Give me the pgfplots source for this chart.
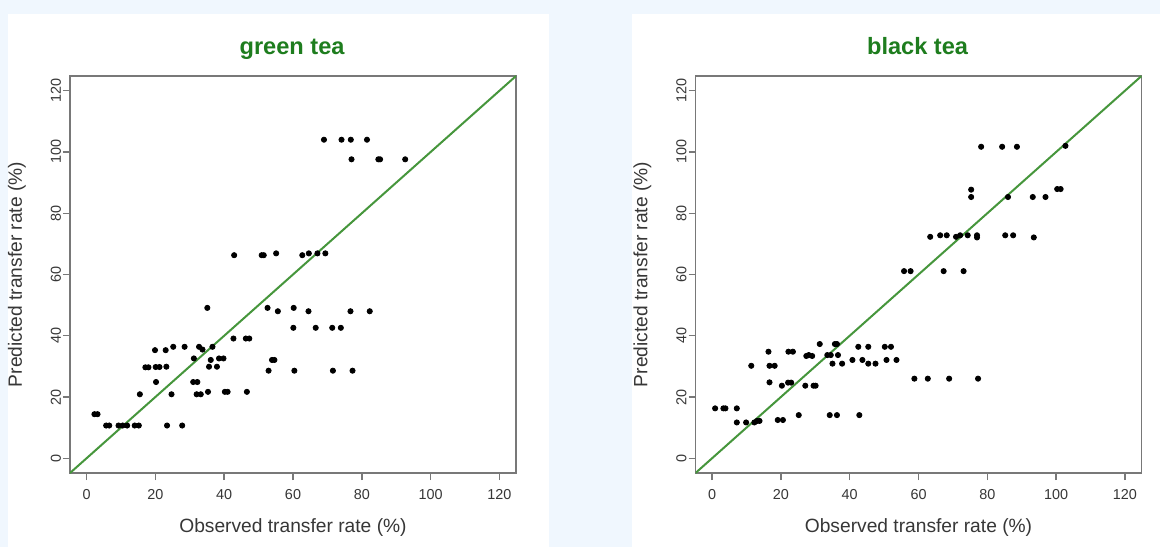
\documentclass[border=0pt]{standalone}
\usepackage{fontspec}
\setmainfont{Liberation Sans}
\usepackage{pgfplots}
\pgfplotsset{compat=1.18}

\definecolor{bgblue}{RGB}{240,247,254}
\definecolor{diaggreen}{RGB}{70,150,60}
\definecolor{titlegreen}{RGB}{30,125,30}
\definecolor{boxgray}{RGB}{120,120,120}
\definecolor{txtgray}{RGB}{55,55,55}

\pgfplotsset{
  teaplot/.style={
    scale only axis, width=223pt, height=198.5pt,
    xmin=-4.8, xmax=124.8, ymin=-4.8, ymax=124.8,
    xtick={0,20,...,120}, ytick={0,20,...,120},
    xtick pos=left, ytick pos=left, tick align=outside,
    major tick length=3.5pt,
    axis line style={boxgray, line width=0.8pt},
    every tick/.style={boxgray, line width=0.7pt},
    /pgf/number format/assume math mode=true,
    tick label style={font=\fontsize{7.2}{8}\selectfont, text=txtgray},
    xticklabel style={yshift=-1pt},
    yticklabel style={rotate=90, anchor=south, yshift=-2.5pt},
    label style={font=\fontsize{9.6}{11}\selectfont, text=txtgray},
    xlabel={Observed transfer rate (\%)},
    ylabel={Predicted transfer rate (\%)},
    xlabel style={at={(rel axis cs:0.5,-0.137)}, anchor=center},
    ylabel style={at={(rel axis cs:-0.119,0.5)}, anchor=center},
    title style={at={(rel axis cs:0.498,1.025)}, anchor=base,
      font=\fontsize{11.8}{13}\bfseries, text=titlegreen},
    clip=true,
  },
  teamarks/.style={only marks, mark=*, mark size=1.3pt, black},
  diag/.style={diaggreen, line width=1pt},
}

\begin{document}
\begin{tikzpicture}[x=1pt,y=1pt]
  \fill[bgblue] (0,0) rectangle (580,273.5);
  \fill[white] (4,0) rectangle (274.5,266.5);
  \fill[white] (316,0) rectangle (580,266.5);

  \begin{axis}[teaplot, at={(35pt,37pt)}, anchor=south west, title={green tea}]
    \addplot[diag] coordinates {(-4.8,-4.8) (124.8,124.8)};
    \addplot[teamarks] coordinates {
      (2.3,14.4) (3.2,14.4)
      (5.7,10.7) (6.6,10.7) (9.3,10.7) (10.5,10.7) (11.8,10.7) (14.0,10.7) (15.2,10.7) (23.4,10.7) (27.8,10.7)
      (15.5,20.9) (24.7,20.9) (32.0,20.9) (33.2,20.9) (35.3,21.7) (40.2,21.7) (41.0,21.7) (46.6,21.7)
      (20.2,24.9) (31.0,24.9) (32.2,24.9)
      (17.1,29.7) (18.0,29.7) (20.1,29.8) (21.2,29.8) (23.2,29.9) (35.6,29.9) (37.9,29.9)
      (31.2,32.6) (36.1,32.1) (38.5,32.6) (39.8,32.6)
      (19.9,35.3) (23.0,35.3) (25.2,36.4) (28.5,36.4) (32.7,36.4) (33.7,35.5) (36.6,36.4)
      (42.7,39.1) (46.3,39.1) (47.3,39.1)
      (35.1,49.1) (52.6,49.1) (55.6,48.0) (60.2,49.1) (64.5,48.0) (76.7,48.0) (82.3,48.0)
      (60.1,42.6) (66.6,42.6) (71.4,42.6) (73.9,42.6)
      (52.9,28.6) (60.4,28.6) (71.6,28.6) (77.3,28.6)
      (53.9,32.1) (54.6,32.1)
      (42.9,66.3) (50.9,66.3) (51.5,66.3) (55.1,66.9) (62.7,66.3) (64.6,66.9) (67.1,66.9) (69.4,66.9)
      (69.0,104.0) (74.1,104.0) (76.8,104.0) (81.5,104.0)
      (77.0,97.6) (84.8,97.6) (85.3,97.6) (92.6,97.6)
    };
  \end{axis}

  \begin{axis}[teaplot, at={(347.75pt,37pt)}, anchor=south west, title={black tea}]
    \addplot[diag] coordinates {(-4.8,-4.8) (124.8,124.8)};
    \addplot[teamarks] coordinates {
      (0.9,16.3) (3.3,16.3) (3.9,16.3) (7.2,16.3)
      (7.2,11.7) (9.9,11.7) (12.3,11.7) (13.1,12.2) (13.8,12.2) (19.1,12.5) (20.6,12.5)
      (25.2,14.1) (34.2,14.1) (36.3,14.1) (42.8,14.1)
      (16.7,24.8) (20.3,23.7) (22.1,24.7) (23.0,24.7) (27.1,23.7) (29.5,23.7) (30.1,23.7)
      (11.4,30.2) (16.7,30.2) (18.2,30.2)
      (16.4,34.8) (22.2,34.8) (23.5,34.8)
      (27.4,33.4) (28.1,33.7) (29.1,33.4) (33.5,33.7) (34.5,33.7) (36.6,33.7)
      (31.3,37.3) (35.7,37.3) (36.3,37.3)
      (35.0,30.9) (37.8,30.9) (45.4,30.9) (47.5,30.9)
      (40.8,32.1) (43.7,32.1) (50.7,32.1) (53.6,32.1)
      (42.5,36.4) (45.4,36.4) (50.2,36.4) (52.0,36.4)
      (58.8,26.0) (62.7,26.0) (68.9,26.0) (77.3,26.0)
      (55.8,61.1) (57.7,61.1) (67.3,61.1) (73.1,61.1)
      (63.4,72.3) (66.3,72.8) (68.2,72.8) (70.9,72.3) (72.1,72.8) (74.3,72.8) (77.0,72.8) (77.0,72.1) (85.2,72.8) (87.5,72.8) (93.5,72.1)
      (75.3,87.7) (75.3,85.3) (86.0,85.3) (93.2,85.3) (96.9,85.3) (100.3,87.9) (101.3,87.9)
      (78.2,101.7) (84.3,101.7) (88.6,101.7) (102.7,102.0)
    };
  \end{axis}
\end{tikzpicture}
\end{document}
